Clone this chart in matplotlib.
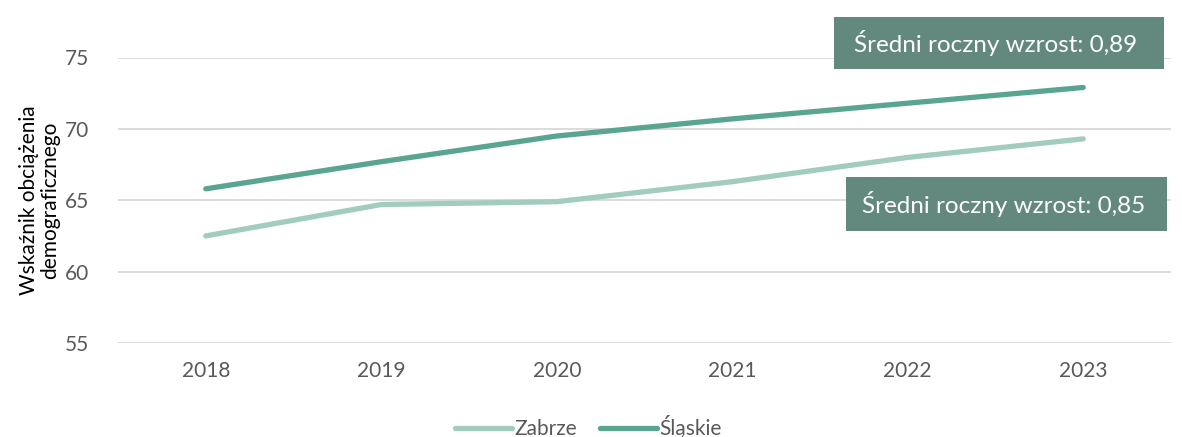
import matplotlib
matplotlib.use("Agg")
import matplotlib.pyplot as plt
from matplotlib.patches import Rectangle

years = ["2018", "2019", "2020", "2021", "2022", "2023"]
zabrze = [62.5, 64.7, 64.9, 66.3, 68.0, 69.3]
slaskie = [65.8, 67.7, 69.5, 70.7, 71.8, 72.9]
series_names = ["Zabrze", "Śląskie"]
yticks = [55, 60, 65, 70, 75]
ylabel = "Wskaźnik obciążenia\ndemograficznego"
notes = ["Średni roczny wzrost: 0,89", "Średni roczny wzrost: 0,85"]

plt.rcParams['font.family'] = ['Lato', 'DejaVu Sans']

W, H = 1182, 437
fig = plt.figure(figsize=(W / 100, H / 100), dpi=100)
ax = fig.add_axes([118 / W, 1 - 343 / H, (1171 - 118) / W, (343 - 57.5) / H])

x = list(range(len(years)))
ax.plot(x, zabrze, color="#a3ccc0", lw=3.8, solid_capstyle="round", label=series_names[0], zorder=3)
ax.plot(x, slaskie, color="#5aa591", lw=3.8, solid_capstyle="round", label=series_names[1], zorder=3)

ax.set_xlim(-0.5, len(years) - 0.5)
ax.set_ylim(55, 75)
ax.set_yticks(yticks)
ax.set_xticks(x)
ax.set_xticklabels(years)
ax.yaxis.grid(True, color="#d9d9d9", lw=1.3)
ax.set_axisbelow(True)
for s in ax.spines.values():
    s.set_visible(False)
ax.tick_params(axis="both", length=0, labelsize=15, labelcolor="#595959")
ax.tick_params(axis="x", pad=13)
ax.tick_params(axis="y", pad=21)
ax.set_ylabel(ylabel, fontsize=15, color="#000000", linespacing=1.05)
ax.yaxis.set_label_coords(-58 / (1171 - 118), 0.5)

# annotation boxes (figure pixel coordinates)
boxes = [(834, 17, 1164, 69), (846, 177, 1167, 231)]
for (x0, y0, x1, y1), txt in zip(boxes, notes):
    r = Rectangle((x0 / W, 1 - y1 / H), (x1 - x0) / W, (y1 - y0) / H,
                  transform=fig.transFigure, facecolor="#63887d", edgecolor="none", zorder=5)
    fig.patches.append(r)
    fig.text((x0 + x1) / 2 / W - 3 / W, 1 - (y0 + y1) / 2 / H, txt, color="white",
             fontsize=17.5, ha="center", va="center", zorder=6)

leg = fig.legend(loc="center", bbox_to_anchor=(588 / W, 1 - 427 / H), ncol=2, frameon=False,
                 fontsize=15, handlelength=2.75, handletextpad=0.1, columnspacing=1.1)
for t in leg.get_texts():
    t.set_color("#595959")

fig.savefig("out.png", dpi=100)
